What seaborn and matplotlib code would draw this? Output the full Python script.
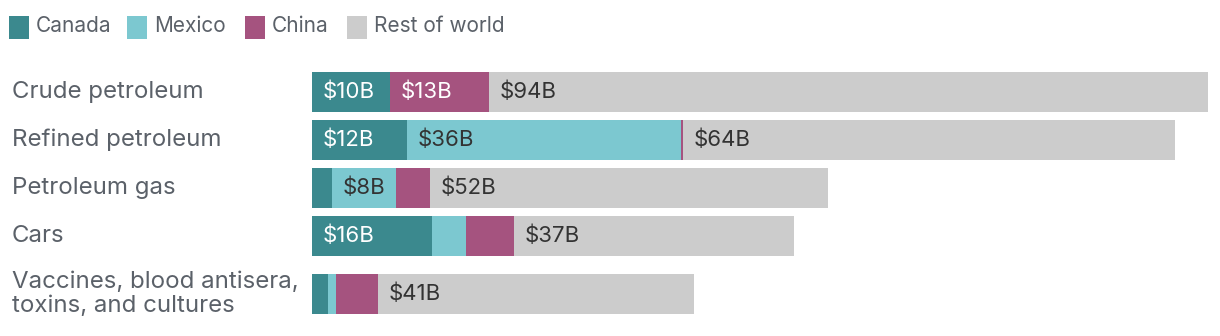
import matplotlib
matplotlib.use("Agg")
import matplotlib.pyplot as plt
import matplotlib.transforms as mtransforms
from matplotlib.patches import Rectangle
import seaborn as sns
import pandas as pd
import numpy as np

categories = ["Crude petroleum", "Refined petroleum", "Petroleum gas", "Cars",
              "Vaccines, blood antisera,\ntoxins, and cultures"]
canada = [10.2, 12.4, 2.6, 15.7, 2.1]
mexico = [0.0, 35.8, 8.4, 4.4, 1.0]
china = [13.0, 0.3, 4.4, 6.3, 5.5]
rest_of_world = [93.9, 64.3, 52.0, 36.6, 41.3]
series_names = ["Canada", "Mexico", "China", "Rest of world"]

colors = ["#3b898e", "#7cc8d0", "#a5537f", "#cccccc"]
text_colors = ["white", "#333333", "white", "#333333"]

W, H = 1220, 336
sns.set_theme(style="white")
plt.rcParams["font.family"] = ["Inter", "DejaVu Sans"]

fig = plt.figure(figsize=(W / 100, H / 100), dpi=100)

def fx(px):
    return px / W

def fy(py):
    return 1 - py / H

# bar positions (row spacing units); last row sits lower because of two-line label
positions = [0, 1, 2, 3, 4.21]
ax = fig.add_axes([fx(312), fy(318), fx(900), (318 - 68) / H])

series = [canada, mexico, china, rest_of_world]
cum = np.cumsum(np.array(series), axis=0)

# draw from the largest cumulative downwards so segments appear stacked
for i in range(3, -1, -1):
    df = pd.DataFrame({"pos": positions, "value": cum[i]})
    sns.barplot(data=df, x="value", y="pos", orient="y", native_scale=True,
                color=colors[i], saturation=1, width=0.833, ax=ax,
                edgecolor="none", linewidth=0)

ax.set_xlim(0, 900 / 7.65)
ax.set_ylim(positions[-1] + 0.5, -0.5)
ax.axis("off")

# value labels
for i in range(4):
    starts = cum[i] - np.array(series[i])
    for j, v in enumerate(series[i]):
        if v >= 7:
            ax.annotate(f"${round(v)}B", xy=(starts[j], positions[j]),
                        xytext=(7.5, 0), textcoords="offset points",
                        ha="left", va="center", fontsize=16,
                        color=text_colors[i])

# category labels
trans = mtransforms.blended_transform_factory(fig.transFigure, ax.transData)
for j, c in enumerate(categories):
    ax.text(fx(12), positions[j], c, transform=trans, ha="left", va="center",
            fontsize=17.3, color="#5b6169", linespacing=1.12)

# legend
leg_x = [9, 127, 245, 347]
for i, name in enumerate(series_names):
    fig.add_artist(Rectangle((fx(leg_x[i]), fy(39)), fx(20), 23 / H,
                             transform=fig.transFigure, facecolor=colors[i],
                             edgecolor="none"))
    fig.text(fx(leg_x[i] + 27), fy(26.5), name, ha="left", va="center",
             fontsize=15, color="#5b6169")

fig.savefig("out.png", dpi=100)
